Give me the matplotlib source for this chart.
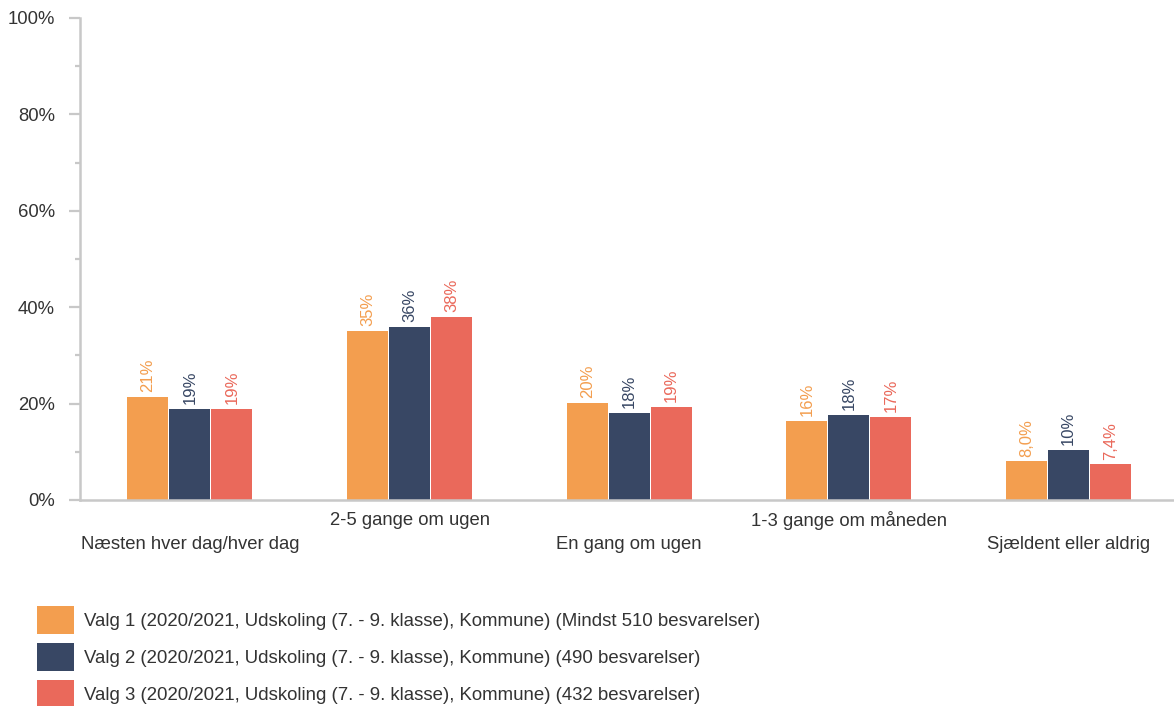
import matplotlib
matplotlib.use("Agg")
import matplotlib.pyplot as plt
from matplotlib.patches import Patch
import numpy as np

plt.rcParams["font.family"] = ["Liberation Sans", "DejaVu Sans"]

categories = [
    "Næsten hver dag/hver dag",
    "2-5 gange om ugen",
    "En gang om ugen",
    "1-3 gange om måneden",
    "Sjældent eller aldrig",
]
valg1 = [21.4, 35.1, 20.1, 16.4, 8.0]
valg2 = [18.9, 35.9, 18.0, 17.6, 10.4]
valg3 = [18.9, 38.0, 19.3, 17.2, 7.4]
series_names = [
    "Valg 1 (2020/2021, Udskoling (7. - 9. klasse), Kommune) (Mindst 510 besvarelser)",
    "Valg 2 (2020/2021, Udskoling (7. - 9. klasse), Kommune) (490 besvarelser)",
    "Valg 3 (2020/2021, Udskoling (7. - 9. klasse), Kommune) (432 besvarelser)",
]
colors = ["#F39E4F", "#384764", "#EA695B"]
yticks = [0, 20, 40, 60, 80, 100]


def fmt(v):
    # two significant digits, danish decimal comma
    if v < 10:
        return f"{v:.1f}".replace(".", ",") + "%"
    return f"{v:.0f}%"


fig = plt.figure(figsize=(11.74, 7.06), dpi=100)
ax = fig.add_axes([80 / 1174, 1 - 500 / 706, 1 - 80 / 1174, (500 - 18) / 706])

x = np.arange(len(categories))
w = 0.187
step = 0.191
for i, (vals, col) in enumerate(zip([valg1, valg2, valg3], colors)):
    pos = x + (i - 1) * step
    ax.bar(pos, vals, w, color=col, edgecolor="none", zorder=2)
    for p, v in zip(pos, vals):
        ax.text(p, v + 1.0, fmt(v), rotation=90, ha="center", va="bottom",
                color=col, fontsize=12)

ax.set_xlim(-0.5, 4.48)
ax.set_ylim(0, 100)
ax.set_yticks(yticks)
ax.set_yticklabels([f"{t}%" for t in yticks], fontsize=13.3, color="#333333")
ax.set_yticks(np.arange(10, 100, 20), minor=True)
ax.tick_params(axis="y", which="major", length=8, width=1.6, color="#c8c8c8", pad=10)
ax.tick_params(axis="y", which="minor", length=3.6, width=1.6, color="#c8c8c8")

ax.set_xticks(x)
ax.set_xticklabels([])
ax.tick_params(axis="x", length=0)
for xi, lab in zip(x, categories):
    dy = -4.3 if xi % 2 == 1 else -9.3
    ax.text(xi, dy, lab, ha="center", va="center", fontsize=13.3, color="#333333",
            clip_on=False)

for s in ["top", "right"]:
    ax.spines[s].set_visible(False)
for s in ["left", "bottom"]:
    ax.spines[s].set_color("#c8c8c8")
    ax.spines[s].set_linewidth(1.8)

handles = [Patch(facecolor=c, edgecolor="none") for c in colors]
fig.legend(handles, series_names, loc="upper left", bbox_to_anchor=(0.0315, 0.1416),
           frameon=False, fontsize=13.4, handlelength=2.0, handleheight=1.9,
           labelspacing=0.52, handletextpad=0.5, borderaxespad=0, borderpad=0,
           labelcolor="#333333")

fig.savefig("out.png", dpi=100, facecolor="white")
